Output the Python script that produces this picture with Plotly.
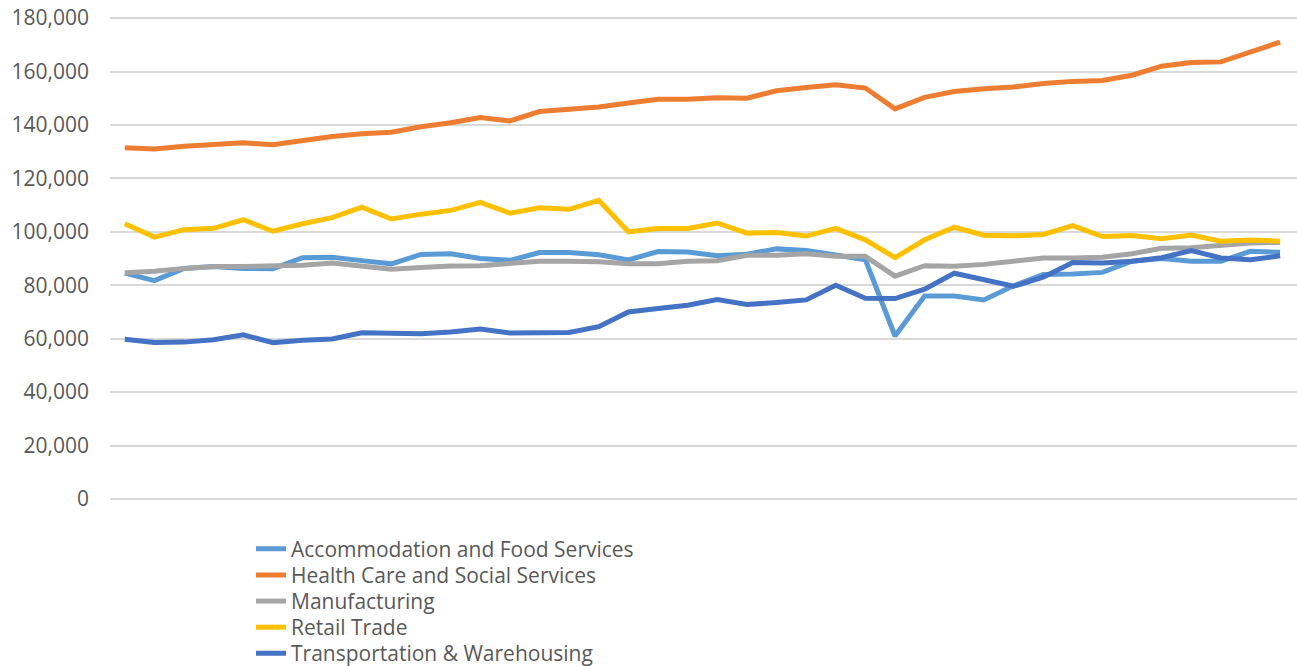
import plotly.graph_objects as go

periods = list(range(40))

accommodation = [84500, 81700, 86300, 87000, 86300, 86200, 90300, 90500, 89200, 88000,
                 91500, 91800, 90000, 89300, 92200, 92200, 91400, 89500, 92600, 92400,
                 91000, 91600, 93600, 93000, 91300, 89500, 61000, 76000, 76000, 74500,
                 79800, 84000, 84200, 84800, 89000, 90000, 89000, 89000, 92700, 92300]
health = [131500, 131000, 132000, 132500, 133300, 132600, 134200, 135700, 136700, 137300,
          139300, 140800, 142800, 141500, 145000, 146000, 146700, 148200, 149600, 149600,
          150200, 150000, 152800, 154000, 155000, 153800, 146000, 150300, 152500, 153500,
          154200, 155500, 156300, 156600, 158600, 162000, 163400, 163600, 167500, 171000]
manufacturing = [84700, 85200, 86300, 87000, 87000, 87200, 87500, 88300, 87300, 86000,
                 86600, 87200, 87300, 88200, 89000, 89000, 88800, 88000, 88000, 89000,
                 89200, 91200, 91200, 91800, 90800, 90800, 83400, 87300, 87100, 87800,
                 89000, 90200, 90200, 90500, 91800, 93800, 94000, 95000, 95800, 96000]
retail = [103000, 98000, 100800, 101300, 104500, 100200, 103000, 105300, 109200, 104800,
          106600, 108000, 111000, 107000, 109000, 108400, 111800, 100000, 101200, 101200,
          103300, 99500, 99700, 98400, 101300, 97000, 90300, 97000, 101700, 98700,
          98500, 99000, 102300, 98200, 98600, 97400, 98800, 96500, 96900, 96500]
transport = [59800, 58600, 58700, 59600, 61400, 58500, 59400, 59900, 62200, 62200,
             61800, 62500, 63600, 62100, 62100, 62300, 64500, 70000, 71300, 72500,
             74600, 72800, 73500, 74500, 80000, 75100, 75000, 78500, 84500, 82000,
             79600, 83000, 88500, 88300, 89000, 90300, 93000, 90200, 89500, 91000]

series_names = ["Accommodation and Food Services", "Health Care and Social Services",
                "Manufacturing", "Retail Trade", "Transportation & Warehousing"]
series_values = [accommodation, health, manufacturing, retail, transport]
series_colors = ["#5b9bd5", "#ed7d31", "#a5a5a5", "#ffc000", "#4472c4"]

font_family = "Open Sans, Lato, sans-serif"
legend_ids = ["legend", "legend2", "legend3", "legend4", "legend5"]
legend_y = [-0.1019, -0.1559, -0.2100, -0.2640, -0.3181]

fig = go.Figure()
for name, vals, color, lid in zip(series_names, series_values, series_colors, legend_ids):
    fig.add_trace(go.Scatter(x=periods, y=vals, mode="lines", name=name,
                             line=dict(color=color, width=5), legend=lid))

legend_layout = {}
for lid, ly in zip(legend_ids, legend_y):
    legend_layout[lid] = dict(x=0.1188, y=ly, xanchor="left", yanchor="middle",
                              font=dict(family=font_family, size=21, color="#595959"),
                              bgcolor="rgba(0,0,0,0)", borderwidth=0)

fig.update_layout(
    width=1297, height=666,
    margin=dict(l=110, r=0, t=17, b=166, autoexpand=False),
    paper_bgcolor="white", plot_bgcolor="white",
    font=dict(family=font_family, color="#595959", size=21),
    showlegend=True,
    xaxis=dict(range=[-0.5, 39.57], showgrid=False, showticklabels=False,
               zeroline=False, showline=False, ticks="", automargin=False),
    yaxis=dict(range=[-400, 180400], tickvals=list(range(0, 180001, 20000)),
               tickformat=",d",
               showgrid=True, gridcolor="#d9d9d9", gridwidth=1.5,
               zeroline=False, showline=False, ticks="", automargin=False,
               ticklabeloverflow="allow",
               ticklabelstandoff=20, tickfont=dict(family=font_family, size=21, color="#595959")),
    **legend_layout,
)

# remove the default page margin so the figure fills the window exactly
fig.write_html("out.html",
               config={"displayModeBar": False},
               post_script="document.body.style.margin='0';document.body.style.overflow='hidden';")
